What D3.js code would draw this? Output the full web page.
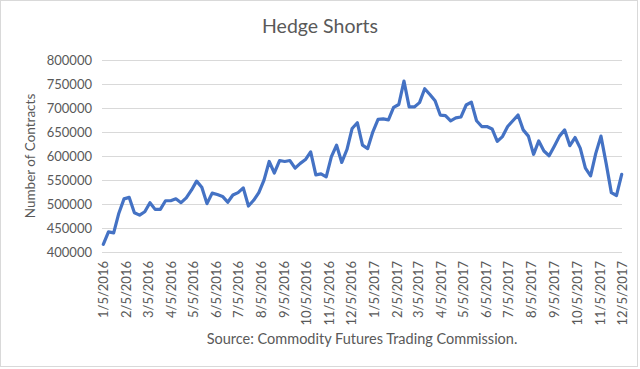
<!DOCTYPE html>
<html>
<head>
<meta charset="utf-8">
<script src="https://cdn.jsdelivr.net/npm/d3@7"></script>
<style>
  html, body { margin: 0; padding: 0; background: #fff; }
  svg { display: block; font-family: Lato, "Open Sans", sans-serif; }
</style>
</head>
<body>
<svg id="chart" width="640" height="369"></svg>
<script>
const title = "Hedge Shorts";
const yTitle = "Number of Contracts";
const source = "Source: Commodity Futures Trading Commission.";
const startDate = "2016-01-05";
const endDate = "2017-12-05";
// weekly values (Tuesdays) from 1/5/2016 to 12/5/2017
const values = [
  415000, 441000, 439000, 480000, 510000, 513000, 481000, 476000, 483000, 502000,
  488000, 488000, 506000, 506000, 510000, 502000, 512000, 528000, 547000, 534000,
  500000, 522000, 519000, 515000, 503000, 518000, 523000, 533000, 495000, 507000,
  523000, 549000, 588000, 564000, 590000, 588000, 590000, 574000, 584000, 592000,
  608000, 560000, 562000, 556000, 598000, 622000, 586000, 613000, 657000, 669000,
  622000, 615000, 650000, 676000, 677000, 675000, 701000, 707000, 756000, 702000,
  702000, 711000, 740000, 728000, 715000, 685000, 684000, 673000, 679000, 681000,
  706000, 712000, 673000, 661000, 661000, 656000, 630000, 640000, 661000, 673000,
  685000, 654000, 641000, 603000, 631000, 610000, 600000, 620000, 641000, 654000,
  621000, 638000, 616000, 574000, 558000, 605000, 641000, 584000, 523000, 517000,
  561000
];
const yTicks = [400000, 450000, 500000, 550000, 600000, 650000, 700000, 750000, 800000];
const xTickLabels = [
  "1/5/2016","2/5/2016","3/5/2016","4/5/2016","5/5/2016","6/5/2016","7/5/2016","8/5/2016",
  "9/5/2016","10/5/2016","11/5/2016","12/5/2016","1/5/2017","2/5/2017","3/5/2017","4/5/2017",
  "5/5/2017","6/5/2017","7/5/2017","8/5/2017","9/5/2017","10/5/2017","11/5/2017","12/5/2017"
];

const parseIso = d3.timeParse("%Y-%m-%d");
const parseMdy = d3.timeParse("%m/%d/%Y");
const t0 = parseIso(startDate);
const data = values.map((v, i) => ({ date: d3.timeDay.offset(t0, i * 7), value: v }));

const svg = d3.select("#chart");
const textColor = "#595959";

// outer border
svg.append("rect")
  .attr("x", 0.5).attr("y", 0.5).attr("width", 637).attr("height", 366)
  .attr("fill", "#fff").attr("stroke", "#d9d9d9");

const x = d3.scaleTime().domain([t0, parseIso(endDate)]).range([103.3, 621.7]);
const y = d3.scaleLinear().domain([400000, 800000]).range([251.5, 60]);
const plotLeft = 102, plotRight = 622;

// gridlines
svg.append("g").selectAll("line").data(yTicks).join("line")
  .attr("x1", plotLeft).attr("x2", plotRight)
  .attr("y1", d => Math.round(y(d)) + 0.5).attr("y2", d => Math.round(y(d)) + 0.5)
  .attr("stroke", "#d9d9d9").attr("stroke-width", 1);

// y axis labels
const yAxis = d3.axisLeft(y).tickValues(yTicks).tickSize(0).tickPadding(0).tickFormat(d3.format("d"));
svg.append("g").attr("transform", "translate(92,0)").call(yAxis)
  .call(g => g.select(".domain").remove())
  .call(g => g.selectAll("text").attr("fill", textColor).attr("font-size", 13)
    .attr("font-family", "Lato, 'Open Sans', sans-serif").attr("dy", "0.35em"));

// x axis labels
const xDates = xTickLabels.map(s => parseMdy(s));
const fmt = d3.timeFormat("%-m/%-d/%Y");
const xAxis = d3.axisBottom(x).tickValues(xDates).tickSize(0).tickPadding(0).tickFormat(fmt);
svg.append("g").attr("transform", "translate(0,261)").call(xAxis)
  .call(g => g.select(".domain").remove())
  .call(g => g.selectAll("text")
    .attr("fill", textColor).attr("font-size", 13)
    .attr("font-family", "Lato, 'Open Sans', sans-serif")
    .attr("transform", "rotate(-90)")
    .attr("text-anchor", "end")
    .attr("x", 0).attr("y", 0).attr("dx", 0).attr("dy", "0.35em"));

// line
const line = d3.line().x(d => x(d.date)).y(d => y(d.value));
svg.append("path").datum(data)
  .attr("d", line)
  .attr("fill", "none")
  .attr("stroke", "#4472C4")
  .attr("stroke-width", 3.2)
  .attr("stroke-linejoin", "round")
  .attr("stroke-linecap", "round");

// title
svg.append("text").attr("x", 320).attr("y", 33).attr("text-anchor", "middle")
  .attr("font-size", 19.5).attr("fill", textColor).text(title);

// y axis title
svg.append("text").attr("transform", "translate(35,156) rotate(-90)")
  .attr("text-anchor", "middle").attr("font-size", 13.5).attr("fill", textColor).text(yTitle);

// source
svg.append("text").attr("x", 362).attr("y", 344).attr("text-anchor", "middle")
  .attr("font-size", 14.5).attr("fill", textColor).text(source);
</script>
</body>
</html>
